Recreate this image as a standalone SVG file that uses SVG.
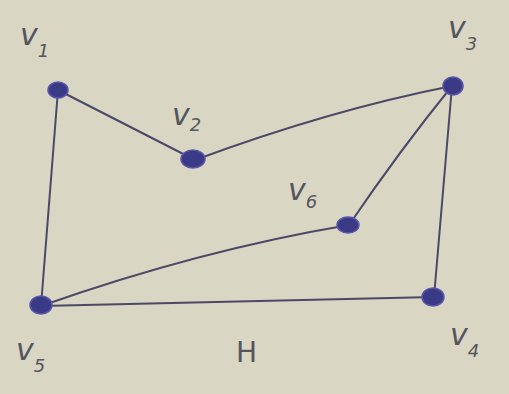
<svg xmlns="http://www.w3.org/2000/svg" width="509" height="394" viewBox="0 0 509 394">
<style>
.e{stroke:#4b4a66;stroke-width:2;fill:none;stroke-linecap:round}
.n{fill:#3b3a86;stroke:#5a58a8;stroke-width:1.5}
.l{font-family:"DejaVu Sans",sans-serif;font-style:italic;fill:#55555e;font-size:30px}
.s{font-size:18px}
</style>
<rect width="509" height="394" fill="#d9d6c4"/>
<g id="connectors">
<path class="e" d="M58 90 L195 160"/>
<path class="e" d="M195 160 Q330 110 452 86"/>
<path class="e" d="M452 86 Q400 150 349 225"/>
<path class="e" d="M452 86 L434 297"/>
<path class="e" d="M58 90 L41 306"/>
<path class="e" d="M41 306 Q200 250 349 225"/>
<path class="e" d="M41 306 L434 297"/>
</g>
<g id="v1"><ellipse class="n" cx="58" cy="90" rx="10" ry="8"/><text class="l" x="20" y="45">v<tspan class="s" dy="12">1</tspan></text></g>
<g id="v2"><ellipse class="n" cx="193" cy="159" rx="12" ry="9"/><text class="l" x="172" y="125">v<tspan class="s" dy="6">2</tspan></text></g>
<g id="v3"><ellipse class="n" cx="453" cy="86" rx="10" ry="9"/><text class="l" x="448" y="38">v<tspan class="s" dy="12">3</tspan></text></g>
<g id="v6"><ellipse class="n" cx="348" cy="225" rx="11" ry="8"/><text class="l" x="288" y="200">v<tspan class="s" dy="8">6</tspan></text></g>
<g id="v5"><ellipse class="n" cx="41" cy="305" rx="11" ry="9"/><text class="l" x="16" y="360">v<tspan class="s" dy="12">5</tspan></text></g>
<g id="v4"><ellipse class="n" cx="433" cy="297" rx="11" ry="9"/><text class="l" x="450" y="345">v<tspan class="s" dy="12">4</tspan></text></g>
<g id="H"><text class="l" x="236" y="362" style="font-style:normal;font-size:28px">H</text></g>
</svg>
